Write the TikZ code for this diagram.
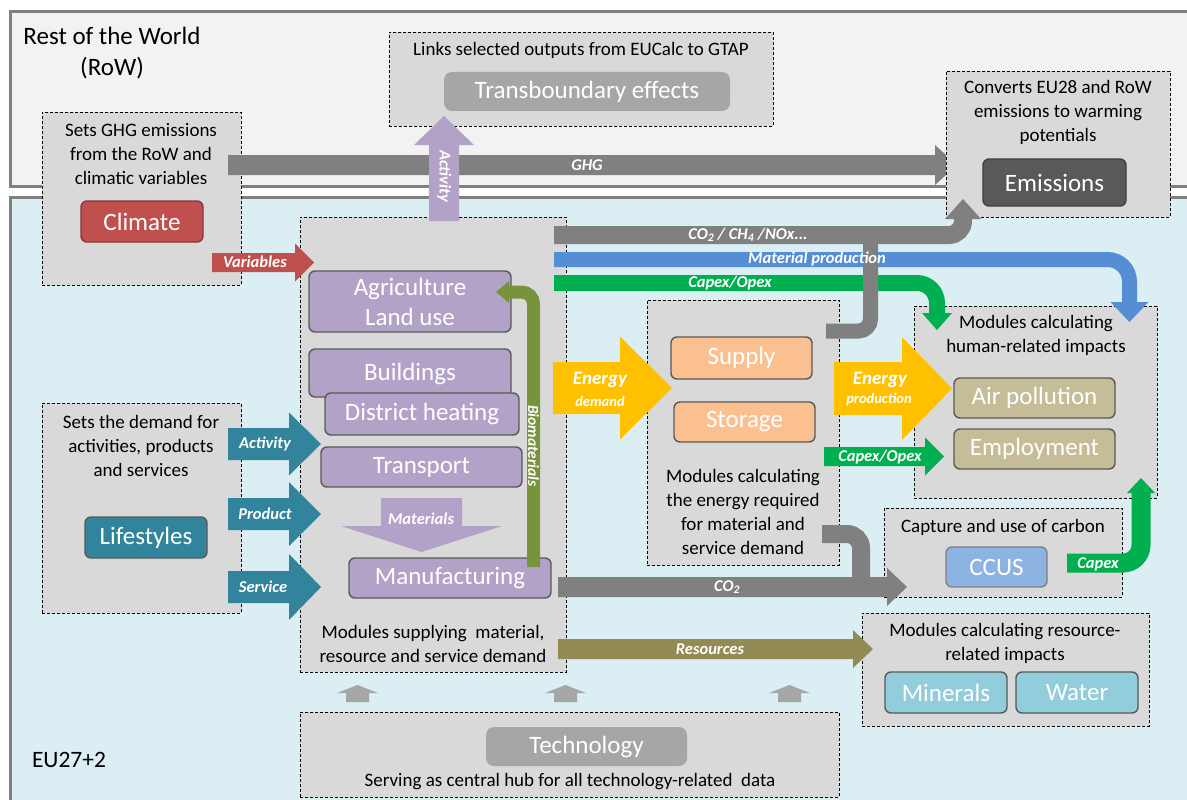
\documentclass[tikz,border=0pt]{standalone}
\usepackage{fontspec}
\setmainfont{Carlito}
\definecolor{rowfill}{HTML}{F2F2F2}
\definecolor{eufill}{HTML}{DAEEF3}
\definecolor{edgegray}{HTML}{808080}
\definecolor{boxgray}{HTML}{D9D9D9}
\definecolor{modedge}{HTML}{595959}
\definecolor{climred}{HTML}{C0504D}
\definecolor{lightgraymod}{HTML}{A6A6A6}
\definecolor{darkmod}{HTML}{595959}
\definecolor{lav}{HTML}{B3A2C7}
\definecolor{tealc}{HTML}{31849B}
\definecolor{peach}{HTML}{FAC090}
\definecolor{khaki}{HTML}{C4BD97}
\definecolor{ccusblue}{HTML}{8DB3E2}
\definecolor{aqua}{HTML}{92CDDC}
\definecolor{bandgray}{HTML}{808080}
\definecolor{bandblue}{HTML}{558ED5}
\definecolor{bandgreen}{HTML}{00B050}
\definecolor{bandyellow}{HTML}{FFC000}
\definecolor{bandolive}{HTML}{948A54}
\definecolor{biogreen}{HTML}{77933C}
\definecolor{techarrow}{HTML}{A6A6A6}
% right arrow: colour, x start, x tip, y centre, shaft half, head half, head length
\newcommand{\rarw}[7]{\fill[#1] (#2,#4-#5) -- (#3-#7,#4-#5) -- (#3-#7,#4-#6) -- (#3,#4) -- (#3-#7,#4+#6) -- (#3-#7,#4+#5) -- (#2,#4+#5) -- cycle;}
% up arrow: colour, x centre, y start (bottom), y tip, shaft half, head half, head length
\newcommand{\uarw}[7]{\fill[#1] (#2-#5,#3) -- (#2-#5,#4+#7) -- (#2-#6,#4+#7) -- (#2,#4) -- (#2+#6,#4+#7) -- (#2+#5,#4+#7) -- (#2+#5,#3) -- cycle;}
% down arrow: colour, x centre, y start (top), y tip, shaft half, head half, head length
\newcommand{\darw}[7]{\fill[#1] (#2-#5,#3) -- (#2-#5,#4-#7) -- (#2-#6,#4-#7) -- (#2,#4) -- (#2+#6,#4-#7) -- (#2+#5,#4-#7) -- (#2+#5,#3) -- cycle;}
\tikzset{
  dbox/.style={draw=black, dash pattern=on 3pt off 2pt, line width=0.9pt, fill=boxgray, anchor=north west, inner sep=0pt},
  modnode/.style={draw=modedge, line width=1.4pt, rounded corners=6pt, text=white, font=\fontsize{25}{30}\selectfont, inner sep=0pt, align=center},
  flatnode/.style={rounded corners=8pt, text=white, font=\fontsize{25}{30}\selectfont, inner sep=0pt},
  dtxt/.style={font=\fontsize{19}{24}\selectfont, align=center, text=black, inner sep=0pt},
  alab/.style={font=\bfseries\itshape\fontsize{16.5}{18}\selectfont, text=white, inner sep=0pt},
  tlab/.style={font=\bfseries\itshape\fontsize{16.5}{18}\selectfont, text=white, inner sep=0pt},
}
\begin{document}
\begin{tikzpicture}[x=1pt,y=-1pt]
\useasboundingbox (0,0) rectangle (1187,800);
\fill[white] (0,0) rectangle (1187,800);
% regions
\draw[line width=3pt, draw=edgegray, fill=rowfill] (10,12) rectangle (1200,186);
\draw[line width=3pt, draw=edgegray, fill=eufill] (10,197) rectangle (1200,812);
\node[font=\fontsize{25}{31}\selectfont, align=center, inner sep=0pt] (row) at (112,53) {Rest of the World\\(RoW)};
\node[font=\fontsize{23.5}{26}\selectfont, inner sep=0pt] (eu) at (69,760) {EU27+2};

% dashed module groups
\node[dbox, minimum width=199, minimum height=173] (climbox) at (42,112) {};
\node[dbox, minimum width=199, minimum height=210] (lifebox) at (42,403) {};
\node[dbox, minimum width=384, minimum height=94] (transbox) at (389,32) {};
\node[dbox, minimum width=266, minimum height=455] (mainbox) at (300,217) {};
\node[dbox, minimum width=192, minimum height=265] (enbox) at (647,300) {};
\node[dbox, minimum width=243, minimum height=192] (humbox) at (914,306) {};
\node[dbox, minimum width=238, minimum height=89] (ccusbox) at (884,508) {};
\node[dbox, minimum width=287, minimum height=113] (resbox) at (862,613) {};
\node[dbox, minimum width=539, minimum height=85] (techbox) at (300,712) {};

% descriptive texts
\node[dtxt] (climtxt) at (141,154) {Sets GHG emissions\\from the RoW and\\climatic variables};
\node[dtxt] (lifetxt) at (141,446) {Sets the demand for\\activities, products\\and services};
\node[dtxt] (transtxt) at (581,50) {Links selected outputs from EUCalc to GTAP};
\node[dtxt] (maintxt) at (433,643.5) {Modules supplying\ \ material,\\resource and service demand};
\node[dtxt] (entxt) at (743,512) {Modules calculating\\the energy required\\for material and\\service demand};
\node[dtxt] (humtxt) at (1036,335) {Modules calculating\\human-related impacts};
\node[dtxt] (ccustxt) at (1003,527) {Capture and use of carbon};
\node[dtxt] (restxt) at (1005,643.5) {Modules calculating resource-\\related impacts};
\node[dtxt] (techtxt) at (570,782) {Serving as central hub for all technology-related\ \ data};

% modules
\node[modnode, fill=climred, draw=climred!70!black, minimum width=122, minimum height=41] (climate) at (142,221.5) {Climate};
\node[flatnode, fill=lightgraymod, minimum width=286, minimum height=39] (transb) at (587,91.5) {Transboundary effects};
\node[modnode, fill=lav, minimum width=202, minimum height=61] (agri) at (410,301.5) {Agriculture\\Land use};
\node[modnode, fill=lav, minimum width=202, minimum height=48] (build) at (410,373) {};
\node[font=\fontsize{25}{30}\selectfont, text=white, inner sep=0pt] (buildtxt) at (410,374) {Buildings};
\node[modnode, fill=lav, minimum width=194, minimum height=42] (dist) at (422,414) {District heating};
\node[modnode, fill=lav, minimum width=201, minimum height=40] (trans) at (421.5,467) {Transport};
\node[modnode, fill=lav, minimum width=202, minimum height=40] (manuf) at (450,578) {Manufacturing};
\node[modnode, fill=tealc, minimum width=122, minimum height=41] (life) at (146,537.5) {Lifestyles};
\node[modnode, fill=peach, minimum width=141, minimum height=42] (supply) at (741.5,358) {Supply};
\node[modnode, fill=peach, minimum width=141, minimum height=40] (storage) at (744.5,422) {Storage};
\node[modnode, fill=khaki, minimum width=161, minimum height=40] (air) at (1034.5,398) {Air pollution};
\node[modnode, fill=khaki, minimum width=161, minimum height=40] (employ) at (1034.5,449) {Employment};
\node[modnode, fill=ccusblue, draw=edgegray, minimum width=101, minimum height=40] (ccus) at (996.5,567) {CCUS};
\node[modnode, fill=aqua, minimum width=122, minimum height=41] (minerals) at (946,692.5) {Minerals};
\node[modnode, fill=aqua, minimum width=122, minimum height=41] (water) at (1077,692.5) {Water};
\node[flatnode, fill=lightgraymod, minimum width=201, minimum height=39] (tech) at (586.5,746.5) {Technology};

% straight block arrows
\rarw{bandgray}{228}{957}{165}{10}{20}{22}
\uarw{lav}{444}{221}{116}{15}{30}{29}
\rarw{climred}{212}{314}{262.5}{9.5}{19}{19}
\rarw{tealc}{228}{321}{444}{16}{31.5}{32}
\rarw{tealc}{228}{321}{514}{16}{32}{32}
\rarw{tealc}{228}{321}{587}{16}{33}{32}
\darw{lav}{421.5}{498}{552}{40.5}{80.5}{26}
\rarw{bandyellow}{553}{672}{388}{26}{51.5}{52}
\rarw{bandyellow}{834}{952}{388.5}{26.5}{51.5}{50}
\rarw{bandgreen}{824}{944}{456.5}{9.5}{19}{19}
\rarw{bandgray}{558}{907}{587}{10}{19}{20}
\rarw{bandolive}{558}{873}{649}{10}{19}{20}
\uarw{techarrow}{357.5}{702}{685}{11.5}{20.5}{8}
\uarw{techarrow}{565.5}{702}{685}{11.5}{20.5}{8}
\uarw{techarrow}{789.5}{702}{685}{11.5}{20.5}{8}

% bent bands
\draw[bandblue, line width=15pt, rounded corners=22pt] (554,259.5) -- (1129.5,259.5) -- (1129.5,302);
\fill[bandblue] (1110.5,302) -- (1129.5,322) -- (1148.5,302) -- cycle;
\draw[bandgreen, line width=16pt, rounded corners=20pt] (554,283) -- (937,283) -- (937,313);
\fill[bandgreen] (922,313) -- (937,330) -- (952,313) -- cycle;
\draw[bandgray, line width=15pt, rounded corners=12pt] (826,331) -- (870.5,331) -- (870.5,238);
\draw[bandgray, line width=18pt, rounded corners=14pt] (822,534) -- (861,534) -- (861,579);
\draw[bandgreen, line width=19pt, rounded corners=18pt] (1067,563) -- (1141,563) -- (1141,492);
\fill[bandgreen] (1127,493) -- (1141,478) -- (1155,493) -- cycle;
\draw[biogreen, line width=13pt, rounded corners=12pt] (533.5,567) -- (533.5,292) -- (509,292);
\fill[biogreen] (509,281) -- (496,292) -- (509,303) -- cycle;

% emissions group on top of the GHG arrow tip
\node[dbox, minimum width=224, minimum height=146] (emisbox) at (946,71) {};
\node[dtxt] (emistxt) at (1058,112) {Converts EU28 and RoW\\emissions to warming\\potentials};
\node[modnode, fill=darkmod, draw=black!75, minimum width=143, minimum height=47] (emiss) at (1054.5,182.5) {Emissions};
\draw[bandgray, line width=18pt, rounded corners=14pt] (554,235) -- (963,235) -- (963,218);
\fill[bandgray] (945,219) -- (963,199) -- (981,219) -- cycle;

% arrow labels
\node[alab] (lghg) at (587,165) {GHG};
\node[tlab, rotate=-90] (lactup) at (444,176) {Activity};
\node[alab] (lvar) at (255,262) {Variables};
\node[tlab] (lact) at (265,444) {Activity};
\node[tlab] (lprod) at (265,514) {Product};
\node[tlab] (lserv) at (263,587) {Service};
\node[tlab] (lmat) at (421,519) {Materials};
\node[alab, rotate=-90, font=\bfseries\itshape\fontsize{15.5}{18}\selectfont] (lbio) at (533.5,446) {Biomaterials};
\node[alab] (lco2a) at (748,235) {CO\textsubscript{2} / CH\textsubscript{4} /NOx...};
\node[alab] (lmp) at (817,259.5) {Material production};
\node[alab] (lcap1) at (730,283) {Capex/Opex};
\node[alab, font=\bfseries\itshape\fontsize{19}{20}\selectfont] (led1) at (600,380) {Energy};
\node[alab, font=\bfseries\itshape\fontsize{14.5}{15}\selectfont] (led2) at (600,401) {demand};
\node[alab, font=\bfseries\itshape\fontsize{19}{20}\selectfont] (lep1) at (880,380) {Energy};
\node[alab, font=\bfseries\itshape\fontsize{14.5}{15}\selectfont] (lep2) at (879,400) {production};
\node[alab] (lcap2) at (880,457) {Capex/Opex};
\node[alab] (lcap3) at (1098,564) {Capex};
\node[alab] (lco2b) at (727,587) {CO\textsubscript{2}};
\node[alab] (lres) at (710,649) {Resources};
\end{tikzpicture}
\end{document}
